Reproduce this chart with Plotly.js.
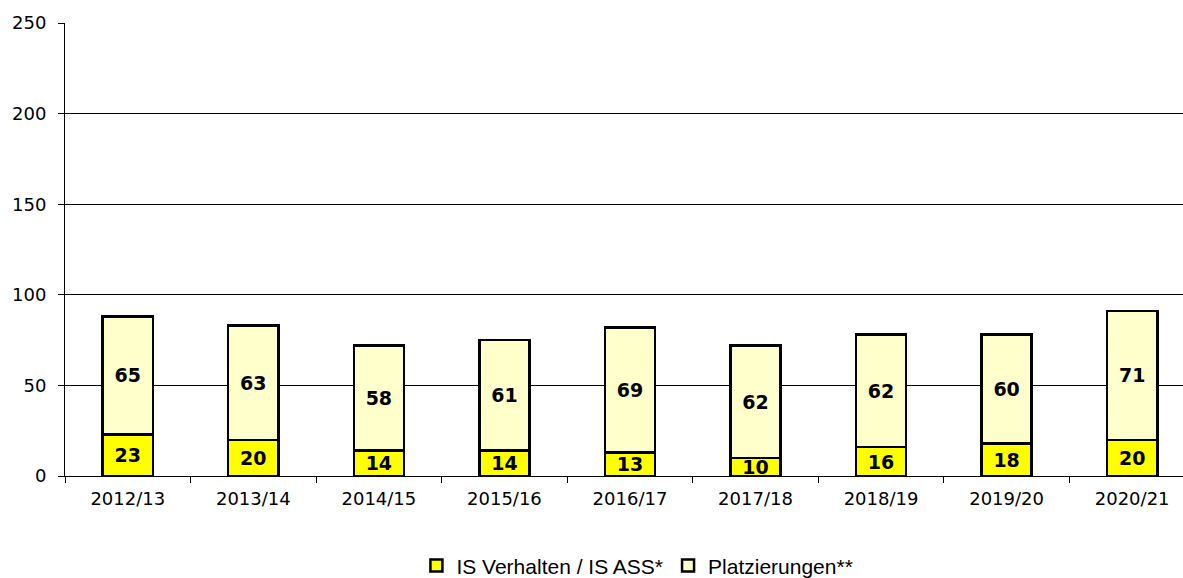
<!DOCTYPE html>
<html>
<head>
<meta charset="utf-8">
<script src="https://cdn.plot.ly/plotly-3.0.1.min.js"></script>
<style>html,body{margin:0;padding:0;background:#fff;}#chart{width:1183px;height:578px;}</style>
</head>
<body>
<div id="chart"></div>
<script>
const years = ['2012/13','2013/14','2014/15','2015/16','2016/17','2017/18','2018/19','2019/20','2020/21'];
const isVerhalten = [23,20,14,14,13,10,16,18,20];
const platzierungen = [65,63,58,61,69,62,62,60,71];
const yTicks = [0,50,100,150,200,250];

const labelFont = {family:'DejaVu Sans', size:19, color:'#000', weight:'bold'};
const common = {
  type:'bar', x: years, width:0.4,
  textposition:'inside', insidetextanchor:'middle', textangle:0,
  constraintext:'none', textfont: labelFont, hoverinfo:'skip'
};
const traces = [
  Object.assign({}, common, {
    name:'IS Verhalten / IS ASS*', y: isVerhalten, text: isVerhalten.map(String),
    marker:{color:'#FFFF00', line:{color:'#000', width:2.5}}
  }),
  Object.assign({}, common, {
    name:'Platzierungen**', y: platzierungen, text: platzierungen.map(String),
    marker:{color:'#FFFFCC', line:{color:'#000', width:2.5}}
  })
];
const layout = {
  width:1183, height:578,
  margin:{l:65, r:0, t:23, b:102, autoexpand:false},
  barmode:'stack',
  paper_bgcolor:'#fff', plot_bgcolor:'#fff',
  font:{family:'DejaVu Sans', size:18, color:'#000'},
  xaxis:{
    type:'category', range:[-0.5, 8.405], tickson:'boundaries',
    ticks:'outside', ticklen:6, tickcolor:'#000', tickwidth:1,
    showline:true, linecolor:'#000', linewidth:1, showgrid:false,
    tickfont:{family:'DejaVu Sans', size:18, color:'#000'},
    ticklabelstandoff:6, automargin:false
  },
  yaxis:{
    range:[0,250], tickvals:yTicks, ticktext:yTicks.map(String),
    ticks:'outside', ticklen:6, tickcolor:'#000', tickwidth:1,
    showline:true, linecolor:'#000', linewidth:1,
    showgrid:true, gridcolor:'#000', gridwidth:1,
    zeroline:false,
    tickfont:{family:'DejaVu Sans', size:18, color:'#000'},
    ticklabelstandoff:8, automargin:false
  },
  showlegend:true,
  legend:{
    orientation:'h', x:0.512, xanchor:'center',
    yref:'container', y:0.021, yanchor:'middle',
    traceorder:'normal',
    font:{family:'Liberation Sans', size:21, color:'#000'},
    itemwidth:30
  }
};
Plotly.newPlot('chart', traces, layout, {displayModeBar:false, staticPlot:true});
</script>
</body>
</html>
